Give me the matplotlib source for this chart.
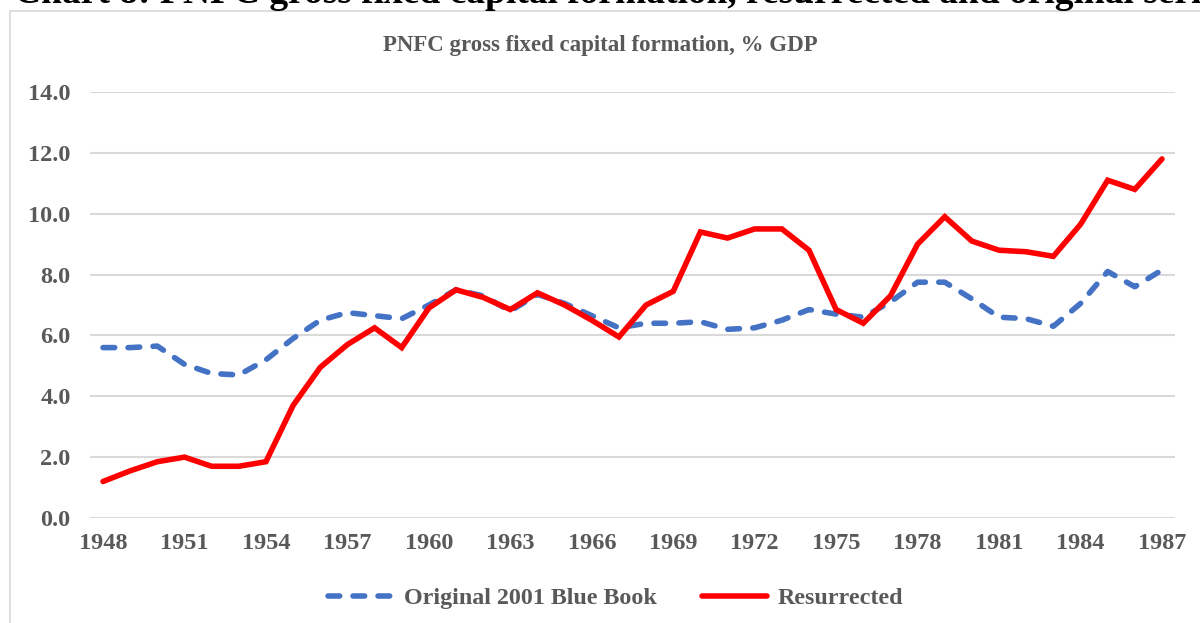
import matplotlib
matplotlib.use("Agg")
import matplotlib.pyplot as plt
from matplotlib.patches import Rectangle

years = list(range(1948, 1988))
original = [5.6, 5.6, 5.65, 5.05, 4.75, 4.7, 5.2, 5.9, 6.5, 6.75,
            6.65, 6.55, 7.0, 7.5, 7.3, 6.8, 7.35, 7.05, 6.65, 6.25,
            6.4, 6.4, 6.45, 6.2, 6.25, 6.5, 6.85, 6.7, 6.6, 7.1,
            7.75, 7.75, 7.2, 6.6, 6.55, 6.3, 7.05, 8.1, 7.6, 8.15]
resurrected = [1.2, 1.55, 1.85, 2.0, 1.7, 1.7, 1.85, 3.7, 4.95, 5.7,
               6.25, 5.6, 6.9, 7.5, 7.25, 6.85, 7.4, 7.0, 6.5, 5.95,
               7.0, 7.45, 9.4, 9.2, 9.5, 9.5, 8.8, 6.85, 6.4, 7.3,
               9.0, 9.9, 9.1, 8.8, 8.75, 8.6, 9.65, 11.1, 10.8, 11.8]
xtick_years = list(range(1948, 1988, 3))
yticks = [0, 2, 4, 6, 8, 10, 12, 14]

plt.rcParams['font.family'] = ['Liberation Serif', 'DejaVu Serif']
grey = '#595959'

fig = plt.figure(figsize=(12, 6.23), dpi=100)
ax = fig.add_axes([90/1200, 1-518/623, (1175-90)/1200, (518-92)/623])

ax.plot(years, original, color='#4472C4', lw=4.0, linestyle=(0, (2.1, 2.4)),
        dash_capstyle='round', label='Original 2001 Blue Book')
ax.plot(years, resurrected, color='#FF0000', lw=4.0, solid_capstyle='round',
        solid_joinstyle='miter', label='Resurrected')

ax.set_xlim(1947.52, 1987.48)
ax.set_ylim(0, 14)
ax.set_yticks(yticks)
ax.set_yticklabels([f"{v:.1f}" for v in yticks])
ax.set_xticks(xtick_years)
ax.set_xticklabels([str(y) for y in xtick_years])
ax.tick_params(axis='both', length=0, labelsize=17.5, colors=grey)
ax.tick_params(axis='y', pad=14)
ax.tick_params(axis='x', pad=11)
for lab in ax.get_xticklabels() + ax.get_yticklabels():
    lab.set_fontweight('bold')
ax.grid(axis='y', color='#D9D9D9', lw=1.5)
ax.set_axisbelow(True)
for s in ax.spines.values():
    s.set_visible(False)

fig.text(0.5, 1-46/623, 'PNFC gross fixed capital formation, % GDP', ha='center',
         va='center', fontsize=16.5, fontweight='bold', color=grey)

fig.text(14/1200, 1-3/623, 'Chart 8: PNFC gross fixed capital formation, resurrected and original series',
         ha='left', va='baseline', fontsize=27, fontweight='bold', color='black')

fig.patches.append(Rectangle((10/1200, -0.1), 1.2, 1-11/623+0.1, transform=fig.transFigure,
                             fill=False, edgecolor='#D9D9D9', lw=1.2))

leg = fig.legend(loc='center', bbox_to_anchor=(616/1200, 1-598/623), ncol=2, frameon=False,
                 handlelength=2.7, handletextpad=0.45, columnspacing=1.9,
                 prop={'size': 17.3, 'weight': 'bold'})
for t in leg.get_texts():
    t.set_color(grey)

fig.savefig('out.png', dpi=100)
